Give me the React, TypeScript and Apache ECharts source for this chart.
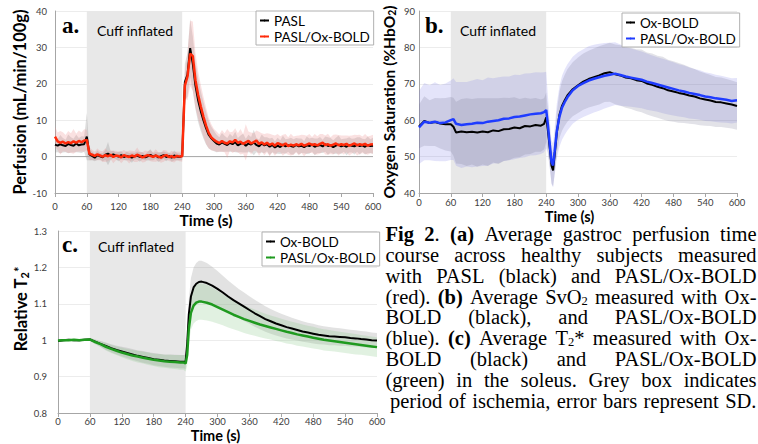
import React, { useEffect, useRef } from 'react';
import * as echarts from 'echarts';

// ---------- Panel a: perfusion (mL/min/100g) ----------
const TIME_A = [0,5,10,15,20,25,30,35,40,45,50,55,60,65,70,75,80,85,90,95,100,105,110,115,120,125,130,135,140,145,150,155,160,165,170,175,180,185,190,195,200,205,210,215,220,225,230,235,240,245,250,255,260,265,270,275,280,285,290,295,300,305,310,315,320,325,330,335,340,345,350,355,360,365,370,375,380,385,390,395,400,405,410,415,420,425,430,435,440,445,450,455,460,465,470,475,480,485,490,495,500,505,510,515,520,525,530,535,540,545,550,555,560,565,570,575,580,585,590,595,600];
const PASL_A = [3.3,3.0,3.4,3.1,2.9,3.5,3.2,3.0,3.6,3.1,3.3,3.4,
  5.5,
  0.6,0.2,-0.3,0.4,0.1,-0.2,0.5,0.8,0.3,0.6,0.2,0.0,0.4,-0.1,0.2,0.0,-0.3,0.1,0.3,-0.1,0.2,-0.2,0.1,0.5,0.0,0.3,-0.2,0.1,0.4,-0.1,0.2,-0.3,0.3,0.0,-0.1,
  0.2,
  20.5,22.5,29.8,25.5,19.5,15.5,12.5,10.0,7.8,6.0,5.0,4.3,
  3.6,3.3,3.9,3.5,3.2,3.8,3.4,4.0,3.1,3.5,
  3.7,3.0,3.6,3.3,3.9,3.2,2.8,3.6,3.1,3.4,
  2.7,3.2,2.5,3.0,2.6,3.3,2.8,3.1,2.9,2.7,
  3.2,2.8,3.0,2.6,3.1,2.9,3.3,2.7,3.0,3.2,
  2.8,3.4,2.9,3.1,2.6,3.0,3.3,2.8,3.1,2.7,
  3.2,3.0,2.8,3.3,2.9,3.1,2.7,3.2,2.9,3.0];
const OXB_A = [5.5,4.2,3.8,4.1,3.6,4.0,3.7,4.2,3.8,4.3,4.0,4.4,
  4.6,
  0.8,0.5,0.2,0.6,0.3,0.0,0.4,0.1,0.5,-0.1,0.3,0.2,-0.2,0.4,0.1,-0.1,0.3,0.0,0.5,0.2,-0.2,0.1,0.4,0.2,-0.1,0.3,0.0,-0.3,0.2,0.4,-0.1,0.1,-0.2,0.2,0.0,
  0.1,
  19.5,22.0,28.3,27.6,21.0,17.0,13.8,11.0,8.5,6.5,5.3,4.6,
  4.1,3.7,4.3,3.8,3.6,4.2,3.9,4.6,3.8,4.1,
  3.5,3.9,4.3,3.6,4.0,4.4,3.5,3.9,3.3,3.8,
  3.2,3.6,3.0,3.7,3.4,3.1,3.6,2.9,3.3,3.0,
  3.4,3.1,3.5,3.0,3.3,3.6,3.2,3.4,3.1,3.5,
  3.8,3.2,3.4,3.0,3.3,3.6,3.1,3.4,3.2,3.5,
  3.0,3.3,3.6,3.1,3.4,3.2,3.5,3.0,3.3,3.4];
const SD_PASL_A = [2.2,1.8,2.5,2.0,1.7,2.6,2.1,1.9,2.4,2.0,2.3,2.1,
  6.5,
  1.6,1.2,1.0,1.3,0.9,1.1,1.4,3.2,1.2,1.0,0.9,1.3,1.1,0.8,1.2,1.0,1.4,0.9,1.1,1.3,1.0,0.8,1.2,1.5,1.0,0.9,1.3,1.1,1.0,1.2,0.8,1.1,1.4,1.0,0.9,
  1.2,
  5.0,6.0,8.0,7.5,6.5,6.0,5.5,5.0,4.5,3.8,3.2,2.8,
  2.4,2.0,2.6,2.2,1.9,2.5,2.1,2.8,2.0,2.3,
  2.6,1.9,2.4,2.1,3.5,2.0,1.8,2.5,2.2,1.9,
  2.3,2.0,1.7,2.2,1.9,2.4,2.0,1.8,2.3,2.1,
  1.9,2.2,2.0,1.7,2.4,2.1,1.9,2.3,2.0,2.2,
  1.8,2.1,2.4,2.0,1.9,2.2,2.5,2.0,1.8,2.3,
  2.1,1.9,2.2,2.0,2.4,1.8,2.1,2.3,1.9,2.2];
const SD_OXB_A = [2.8,2.4,3.2,2.6,2.3,3.0,2.7,3.4,2.5,2.9,2.6,3.1,
  2.8,
  1.8,1.4,1.2,1.6,1.3,1.5,1.9,1.4,1.2,1.7,1.3,1.1,1.6,1.4,1.2,1.8,1.3,1.5,2.0,1.2,1.4,1.6,1.1,1.5,1.3,1.7,1.2,1.4,1.6,1.3,1.1,1.5,1.4,1.2,1.3,
  1.5,
  3.5,6.5,9.0,9.5,7.5,6.5,6.0,5.5,5.0,4.2,3.6,3.0,
  2.8,2.4,3.0,2.6,4.0,2.5,2.9,3.2,2.6,3.5,
  2.7,5.0,2.6,3.0,2.4,2.8,3.3,2.5,2.9,2.6,
  3.1,2.4,2.8,2.5,2.2,2.9,2.6,2.4,3.0,2.5,
  2.3,2.7,2.5,2.9,2.4,2.6,2.2,2.8,2.5,2.7,
  2.4,2.6,2.9,2.3,2.7,2.5,2.8,2.4,2.6,2.3,
  2.7,2.5,2.4,2.8,2.6,2.3,2.7,2.5,2.4,2.6];

// ---------- Panel b: oxygen saturation (%HbO2) ----------
const TIME_B = [0,10,20,30,40,50,60,65,70,80,90,100,110,120,130,140,150,160,170,180,190,200,210,220,230,236,240,243,247,250,253,256,260,265,270,275,280,290,300,310,320,330,340,350,360,370,380,390,400,410,420,430,440,450,460,470,480,490,500,510,520,530,540,550,560,570,580,590,600];
const OXBOLD_B = [58.3,59.8,59.2,59.5,59.1,58.9,58.9,58.2,
  56.6,56.9,56.7,56.8,56.6,56.9,56.7,57.2,57.0,57.5,57.6,58.0,57.8,58.4,58.3,58.7,58.5,
  59.0,60.8,57.5,52.0,47.5,46.2,50.5,56.5,61.5,64.0,65.5,66.8,
  68.5,69.6,70.6,71.3,71.8,72.3,72.9,73.2,72.6,72.3,71.7,71.5,71.0,70.8,70.1,69.7,69.2,68.8,68.2,67.9,67.5,67.2,66.8,66.5,66.0,65.7,65.4,65.0,64.9,64.6,64.3,63.9];
const PASLOX_B = [58.0,59.6,59.3,59.6,59.2,59.4,60.0,60.3,
  59.0,58.7,58.9,59.0,59.3,59.2,59.6,59.8,60.0,60.4,60.5,60.9,61.0,61.3,61.6,61.8,61.9,
  62.2,62.8,59.0,53.0,48.5,47.6,51.5,57.0,61.0,63.5,65.0,66.3,
  68.2,69.4,70.2,70.9,71.4,71.8,72.2,72.5,72.8,72.4,72.0,71.7,71.4,71.1,70.6,70.2,69.8,69.4,69.0,68.6,68.2,67.9,67.5,67.2,66.9,66.5,66.3,66.0,65.8,65.6,65.3,65.5];
const SD_OXBOLD_B = [6.0,6.8,6.3,6.6,6.9,7.2,7.5,8.0,
  8.5,8.9,9.3,9.0,9.4,9.1,9.3,8.8,9.0,8.7,8.5,8.3,8.0,7.8,7.6,7.4,7.2,
  7.0,6.8,6.0,5.2,4.8,4.5,5.0,5.8,6.4,6.8,7.0,7.2,
  7.4,7.6,7.7,7.8,7.9,8.0,7.9,8.1,8.2,8.3,8.3,8.4,8.5,8.6,8.5,8.6,8.5,8.6,8.4,8.3,8.2,8.0,7.8,7.6,7.4,7.2,7.0,6.9,6.8,6.7,6.6,6.5];
const SD_PASLOX_B = [10.0,10.6,10.3,10.8,10.5,10.7,10.9,11.2,
  11.5,11.8,11.6,11.9,12.0,11.8,12.1,11.7,11.8,11.6,11.5,11.6,11.4,11.5,11.3,11.4,11.2,
  11.0,10.5,8.0,6.5,6.0,6.0,6.5,7.5,8.3,8.8,9.0,9.1,
  9.2,9.3,9.3,9.4,9.3,9.2,9.0,8.8,8.6,8.4,8.2,8.0,7.9,7.8,7.7,7.6,7.5,7.5,7.4,7.3,7.2,7.1,7.0,6.9,6.8,6.7,6.6,6.5,6.4,6.3,6.2,6.1];

// ---------- Panel c: relative T2* ----------
const TIME_C = [0,10,20,30,40,50,60,70,80,90,100,110,120,130,140,150,160,170,180,190,200,210,220,230,236,240,243,246,250,255,260,265,270,280,290,300,310,320,330,340,350,360,370,380,390,400,410,420,430,440,450,460,470,480,490,500,510,520,530,540,550,560,570,580,590,600];
const OXBOLD_C = [0.998,1.000,1.001,1.000,1.000,1.001,1.002,
  0.996,0.990,0.984,0.978,0.973,0.969,0.965,0.961,0.957,0.954,0.951,0.948,0.946,0.944,0.943,0.942,0.941,
  0.941,0.941,0.990,1.070,1.120,1.145,1.155,1.160,1.161,
  1.157,1.150,1.141,1.131,1.120,1.110,1.101,1.092,1.083,1.074,1.066,1.058,1.052,1.046,1.041,1.036,1.032,1.028,1.024,1.021,1.018,1.015,1.013,1.011,1.010,1.009,1.008,1.006,1.005,1.003,1.002,1.000,0.999];
const PASLOX_C = [0.999,1.000,1.000,1.001,1.000,1.001,1.002,
  0.995,0.989,0.982,0.976,0.971,0.966,0.962,0.958,0.955,0.952,0.949,0.946,0.944,0.942,0.941,0.940,0.939,
  0.939,0.936,0.960,1.030,1.075,1.095,1.103,1.106,1.106,
  1.103,1.098,1.091,1.084,1.077,1.070,1.064,1.058,1.053,1.048,1.043,1.039,1.035,1.031,1.027,1.023,1.020,1.016,1.013,1.010,1.007,1.004,1.001,0.999,0.997,0.995,0.993,0.991,0.989,0.987,0.985,0.983,0.981];
const SD_OXBOLD_C = [0.003,0.003,0.003,0.003,0.003,0.003,0.004,
  0.006,0.008,0.010,0.011,0.012,0.013,0.014,0.015,0.015,0.016,0.016,0.017,0.017,0.017,0.018,0.018,0.018,
  0.018,0.020,0.030,0.042,0.050,0.055,0.057,0.058,0.057,
  0.055,0.052,0.049,0.046,0.044,0.042,0.040,0.039,0.038,0.037,0.036,0.035,0.034,0.033,0.032,0.031,0.030,0.029,0.028,0.027,0.027,0.026,0.025,0.025,0.024,0.024,0.023,0.023,0.022,0.022,0.022,0.021,0.021];
const SD_PASLOX_C = [0.003,0.003,0.003,0.003,0.003,0.003,0.004,
  0.006,0.008,0.010,0.011,0.012,0.013,0.014,0.015,0.016,0.016,0.017,0.017,0.018,0.018,0.019,0.019,0.020,
  0.020,0.022,0.030,0.040,0.046,0.049,0.050,0.050,0.050,
  0.049,0.047,0.045,0.043,0.042,0.040,0.039,0.038,0.037,0.036,0.035,0.034,0.033,0.033,0.032,0.032,0.031,0.031,0.030,0.030,0.030,0.029,0.029,0.029,0.028,0.028,0.028,0.028,0.028,0.027,0.027,0.027,0.027];

// cuff (ischemia) period, seconds
const CUFF_START = 60;
const CUFF_END = 240;

const CAPTION_LINES = [
  '{b|Fig} {b|2}. {b|(a)} Average gastroc perfusion time',
  'course across healthy subjects measured',
  'with PASL (black) and PASL/Ox-BOLD',
  '(red). {b|(b)} Average SvO{s|2} measured with Ox-',
  'BOLD (black), and PASL/Ox-BOLD',
  '(blue). {b|(c)} Average T{s|2}* measured with Ox-',
  'BOLD (black) and PASL/Ox-BOLD',
  '(green) in the soleus. Grey box indicates',
  'period of ischemia, error bars represent SD.',
];

const SANS = 'Lato';
const SERIF = '"Liberation Serif", "Times New Roman", serif';
const RED = '#ff2a0a';
const BLUE = '#1f3cff';
const GREEN = '#1f9a1f';
const AXIS_GREY = '#a6a6a6';
const CAP_SIZE = 20.5;
const SUB_SIZE = 12.5;

function shadeSeries(idx: number, yMin: number, yMax: number) {
  return {
    type: 'custom', xAxisIndex: idx, yAxisIndex: idx, z: 1, silent: true,
    data: [[CUFF_START, yMin, CUFF_END, yMax]],
    encode: { x: [0, 2], y: [1, 3] },
    renderItem: (_p: any, api: any) => {
      const a = api.coord([api.value(0), api.value(3)]);
      const b = api.coord([api.value(2), api.value(1)]);
      return { type: 'rect', shape: { x: a[0], y: a[1], width: b[0] - a[0], height: b[1] - a[1] }, style: { fill: '#e8e8e8' } };
    },
  };
}

function hLineSeries(idx: number, y: number) {
  return {
    type: 'custom', xAxisIndex: idx, yAxisIndex: idx, z: 2, silent: true,
    data: [[0, y, 600, y]],
    encode: { x: [0, 2], y: [1, 3] },
    renderItem: (_p: any, api: any) => {
      const a = api.coord([api.value(0), api.value(1)]);
      const b = api.coord([api.value(2), api.value(3)]);
      return { type: 'line', shape: { x1: a[0], y1: a[1], x2: b[0], y2: b[1] }, style: { stroke: AXIS_GREY, lineWidth: 1 } };
    },
  };
}

function bandSeries(idx: number, times: number[], mean: number[], sd: number[], color: string) {
  return {
    type: 'custom', xAxisIndex: idx, yAxisIndex: idx, z: 3, silent: true, clip: true,
    data: [[times[0], mean[0]]],
    renderItem: (_p: any, api: any) => {
      const up = times.map((t, i) => api.coord([t, mean[i] + sd[i]]));
      const lo = times.map((t, i) => api.coord([t, mean[i] - sd[i]])).reverse();
      return { type: 'polygon', shape: { points: up.concat(lo) }, style: { fill: color } };
    },
  };
}

function lineSeries(idx: number, name: string, times: number[], vals: number[], color: string, width: number) {
  return {
    type: 'line', name, xAxisIndex: idx, yAxisIndex: idx, z: 4, silent: true,
    data: times.map((t, i) => [t, vals[i]]),
    symbol: 'none',
    lineStyle: { color, width },
    itemStyle: { color },
  };
}

function xAxis(idx: number, labelMargin: number, shift: number, nameGap: number, fontSize: number, autoMove: boolean) {
  return {
    type: 'value', gridIndex: idx, min: 0, max: 600, interval: 60,
    axisLine: { onZero: false, lineStyle: { color: AXIS_GREY } },
    axisTick: { show: true, length: 4, lineStyle: { color: AXIS_GREY } },
    axisLabel: { fontFamily: SANS, fontSize: 9.5, color: '#404040', margin: labelMargin },
    splitLine: { show: false },
    name: 'Time (s)', nameLocation: 'middle', nameGap, nameMoveOverlap: autoMove,
    nameTextStyle: { fontFamily: SANS, fontWeight: 'bold', fontSize, lineHeight: fontSize, color: '#000', padding: [0, shift, 0, 0] },
  };
}

function yAxis(idx: number, min: number, max: number, interval: number, name: string, nameGap: number, labelMargin: number, fontSize: number, padding: number[], rich?: any) {
  return {
    type: 'value', gridIndex: idx, min, max, interval,
    axisLine: { show: true, lineStyle: { color: AXIS_GREY } },
    axisTick: { show: false },
    axisLabel: { fontFamily: SANS, fontSize: 9.5, color: '#404040', margin: labelMargin },
    splitLine: { show: true, lineStyle: { color: '#ececec' } },
    name, nameLocation: 'middle', nameGap,
    nameTextStyle: { fontFamily: SANS, fontWeight: 'bold', fontSize, color: '#000', padding, rich },
  };
}

const legendBase = {
  orient: 'vertical', selectedMode: false,
  itemWidth: 9, itemHeight: 2, itemGap: 1,
  padding: [2, 4, 1, 3],
  borderColor: '#b0b0b0', borderWidth: 1, backgroundColor: '#fff',
  textStyle: { fontFamily: SANS, fontSize: 13.5, color: '#000', lineHeight: 15 },
};

function buildCaption(): any[] {
  const canvas = document.createElement('canvas');
  const ctx = canvas.getContext('2d') as CanvasRenderingContext2D;
  const fonts: Record<string, string> = {
    r: `${CAP_SIZE}px "Liberation Serif"`,
    b: `bold ${CAP_SIZE}px "Liberation Serif"`,
    s: `${SUB_SIZE}px "Liberation Serif"`,
  };
  const measure = (word: string) => {
    let w = 0;
    const re = /\{(\w+)\|([^}]*)\}|([^{]+)/g;
    let m: RegExpExecArray | null;
    while ((m = re.exec(word))) {
      const kind = m[1] || 'r';
      const txt = m[1] ? m[2] : m[3];
      ctx.font = fonts[kind];
      w += ctx.measureText(txt).width;
    }
    return w;
  };
  const rich = {
    b: { fontFamily: SERIF, fontSize: CAP_SIZE, fontWeight: 'bold', fill: '#000', lineHeight: 21 },
    s: { fontFamily: SERIF, fontSize: SUB_SIZE, fill: '#000', lineHeight: 13, verticalAlign: 'bottom' },
  };
  const out: any[] = [];
  CAPTION_LINES.forEach((line, li) => {
    const words = line.split(' ');
    const widths = words.map(measure);
    const left = li === CAPTION_LINES.length - 1 ? 390 : 385.5;
    const right = 756.5;
    const total = widths.reduce((a, b) => a + b, 0);
    const gap = (right - left - total) / (words.length - 1);
    let x = left;
    const y = 234 + li * 20.85;
    words.forEach((w, wi) => {
      out.push({
        type: 'text', x, y, z: 100, silent: true,
        style: { text: w, fontFamily: SERIF, fontSize: CAP_SIZE, fill: '#000', lineHeight: 21, verticalAlign: 'middle', rich },
      });
      x += widths[wi] + gap;
    });
  });
  return out;
}

export default function App() {
  const ref = useRef<HTMLDivElement>(null);
  useEffect(() => {
    if (!ref.current) return;
    const chart = echarts.init(ref.current, undefined, { renderer: 'svg' });
    const letter = (t: string, x: number, y: number) => ({
      type: 'text', x, y, z: 100, silent: true,
      style: { text: t, fontFamily: SERIF, fontWeight: 'bold', fontSize: 23, fill: '#000', verticalAlign: 'middle' },
    });
    const cuff = (x: number, y: number) => ({
      type: 'text', x, y, z: 100, silent: true,
      style: { text: 'Cuff inflated', fontFamily: SANS, fontSize: 14, fill: '#000', verticalAlign: 'middle' },
    });
    const option: any = {
      animation: false,
      textStyle: { fontFamily: SANS },
      grid: [
        { left: 55, top: 11, width: 318, height: 182, outerBoundsMode: 'none' },
        { left: 419, top: 11, width: 318, height: 182, outerBoundsMode: 'none' },
        { left: 58, top: 231, width: 319, height: 182, outerBoundsMode: 'none' },
      ],
      xAxis: [
        xAxis(0, 8, 16, 15, 15.5, true),
        xAxis(1, 4, 17, 16, 14.5, false),
        xAxis(2, 3, 4, 15, 14.5, false),
      ],
      yAxis: [
        yAxis(0, -10, 40, 10, 'Perfusion (mL/min/100g)', 20, 8, 16.5, [0, 0, 0, 0]),
        yAxis(1, 40, 90, 10, 'Oxygen Saturation (%HbO{sub|2})', 22, 4, 15.5, [0, 0, 0, 0], {
          sub: { fontFamily: SANS, fontWeight: 'bold', fontSize: 10.5, color: '#000', verticalAlign: 'bottom', lineHeight: 10 },
        }),
        yAxis(2, 0.8, 1.3, 0.1, 'Relative T{sub|2}{sup|*}', 23, 11, 16.5, [0, 0, 0, 26], {
          sub: { fontFamily: SANS, fontWeight: 'bold', fontSize: 11, color: '#000', verticalAlign: 'bottom', lineHeight: 11 },
          sup: { fontFamily: SANS, fontWeight: 'bold', fontSize: 13, color: '#000', verticalAlign: 'top', lineHeight: 13 },
        }),
      ],
      legend: [
        { ...legendBase, left: 256, top: 11, data: [{ name: 'PASL' }, { name: 'PASL/Ox-BOLD', itemStyle: { color: RED }, lineStyle: { color: RED } }] },
        { ...legendBase, left: 622, top: 13, data: [{ name: 'Ox-BOLD' }, { name: 'PASL/Ox-BOLD', itemStyle: { color: BLUE }, lineStyle: { color: BLUE } }] },
        { ...legendBase, left: 262, top: 232, data: [{ name: 'Ox-BOLD' }, { name: 'PASL/Ox-BOLD', itemStyle: { color: GREEN }, lineStyle: { color: GREEN } }] },
      ],
      series: [
        shadeSeries(0, -10, 40),
        hLineSeries(0, 0),
        bandSeries(0, TIME_A, PASL_A, SD_PASL_A, 'rgba(140,140,140,0.28)'),
        bandSeries(0, TIME_A, OXB_A, SD_OXB_A, 'rgba(235,140,140,0.26)'),
        lineSeries(0, 'PASL', TIME_A, PASL_A, '#000', 2),
        lineSeries(0, 'PASL/Ox-BOLD', TIME_A, OXB_A, RED, 2.5),

        shadeSeries(1, 40, 90),
        bandSeries(1, TIME_B, PASLOX_B, SD_PASLOX_B, 'rgba(120,120,230,0.2)'),
        bandSeries(1, TIME_B, OXBOLD_B, SD_OXBOLD_B, 'rgba(110,110,140,0.2)'),
        lineSeries(1, 'Ox-BOLD', TIME_B, OXBOLD_B, '#000', 2),
        lineSeries(1, 'PASL/Ox-BOLD', TIME_B, PASLOX_B, BLUE, 2.5),

        shadeSeries(2, 0.8, 1.3),
        bandSeries(2, TIME_C, OXBOLD_C, SD_OXBOLD_C, 'rgba(150,150,150,0.28)'),
        bandSeries(2, TIME_C, PASLOX_C, SD_PASLOX_C, 'rgba(140,200,140,0.26)'),
        lineSeries(2, 'Ox-BOLD', TIME_C, OXBOLD_C, '#000', 2),
        lineSeries(2, 'PASL/Ox-BOLD', TIME_C, PASLOX_C, GREEN, 2.5),
      ],
      graphic: [
        letter('a.', 62, 25),
        letter('b.', 425, 25),
        letter('c.', 62, 244),
        cuff(97, 30),
        cuff(460, 30),
        cuff(98, 246),
        ...buildCaption(),
      ],
    };
    chart.setOption(option);
    return () => chart.dispose();
  }, []);
  return <div ref={ref} style={{ position: 'absolute', left: 0, top: 0, width: 758, height: 444, background: '#fff' }} />;
}
